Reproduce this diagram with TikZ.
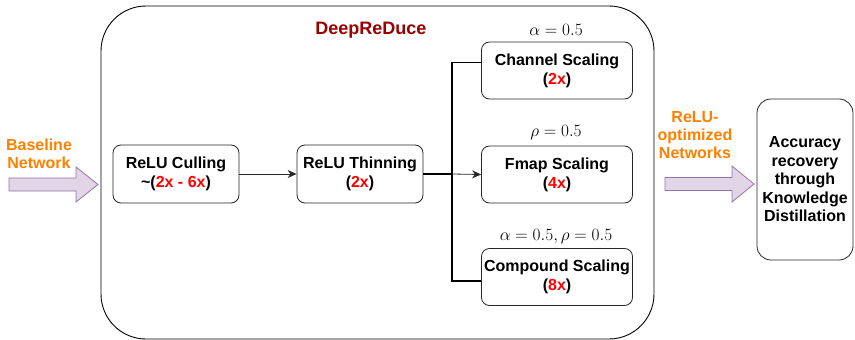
\documentclass[tikz,border=0pt]{standalone}
\usepackage{fontspec}
\setmainfont{Liberation Sans}
\usetikzlibrary{arrows.meta}

\definecolor{darkred}{HTML}{990000}
\definecolor{orangetxt}{HTML}{FF8000}
\definecolor{arrowfill}{HTML}{E1D5E7}
\definecolor{arrowline}{HTML}{9673A6}
\definecolor{numred}{HTML}{FF0000}

\tikzset{
  stage/.style={draw=black!85, line width=0.8pt, rounded corners=8pt,
    align=center, font=\fontsize{16}{19}\selectfont\bfseries,
    minimum width=126pt, minimum height=58pt, inner sep=0pt},
  scalebox/.style={stage, minimum width=151pt, minimum height=57pt},
  flow/.style={draw=black!85, line width=0.8pt, -{Stealth[length=9pt,width=8pt]}},
  bus/.style={draw=black, line width=1.8pt},
  fat/.style={fill=arrowfill, draw=arrowline, line width=0.8pt},
  note/.style={text=orangetxt, align=center, font=\fontsize{16}{18}\selectfont\bfseries},
  param/.style={font=\fontsize{16}{18}\selectfont}
}
\newcommand{\num}[1]{\textcolor{numred}{#1}}

\begin{document}
\begin{tikzpicture}[x=1pt, y=-1pt]
  \useasboundingbox (0,0) rectangle (855,340);

  % DeepReDuce container
  \draw[line width=0.9pt, rounded corners=45pt] (101,6) rectangle (654,339);
  \node[text=darkred, font=\fontsize{18}{20}\selectfont\bfseries] (title) at (371,30) {DeepReDuce};

  % stages
  \node[stage] (cull) at (176,174) {ReLU Culling\\\textasciitilde(\num{2x - 6x})};
  \node[stage] (thin) at (360,174) {ReLU Thinning\\(\num{2x})};

  \node[scalebox] (chan) at (557,70.5) {Channel Scaling\\(\num{2x})};
  \node[scalebox] (fmap) at (557,174.5) {Fmap Scaling\\(\num{4x})};
  \node[scalebox] (comp) at (557,277) {Compound Scaling\\(\num{8x})};

  \node[param] (pa) at (556,30) {$\alpha = 0.5$};
  \node[param] (pr) at (556,133) {$\rho = 0.5$};
  \node[param] (pb) at (556,237) {$\alpha = 0.5, \rho = 0.5$};

  % connectors
  \draw[flow] (cull) -- (thin);
  \coordinate (split) at (452,174);
  \draw[bus] (thin.east) -- (split);
  \draw[bus] (split) |- ([yshift=8pt]chan.west);
  \draw[bus] (split) |- ([yshift=-4pt]comp.west);
  \draw[flow] (split) -- (fmap.west);

  % knowledge distillation box
  \node[draw=black!85, line width=0.8pt, rounded corners=14pt, align=center,
        minimum width=96pt, minimum height=161pt, inner sep=0pt,
        font=\fontsize{16}{18.5}\selectfont\bfseries]
    (kd) at (805,179.5) {Accuracy\\recovery\\through\\Knowledge\\Distillation};

  % input and output block arrows
  \draw[fat] (9,178) -- (76,178) -- (76,167) -- (98,184.5) -- (76,202) -- (76,191) -- (9,191) -- cycle;
  \draw[fat] (665,177.5) -- (732,177.5) -- (732,166) -- (754,184) -- (732,202) -- (732,190.5) -- (665,190.5) -- cycle;

  \node[note] (base) at (39,154) {Baseline\\Network};
  \node[note] (opt) at (695,135) {ReLU-\\optimized\\Networks};
\end{tikzpicture}
\end{document}
